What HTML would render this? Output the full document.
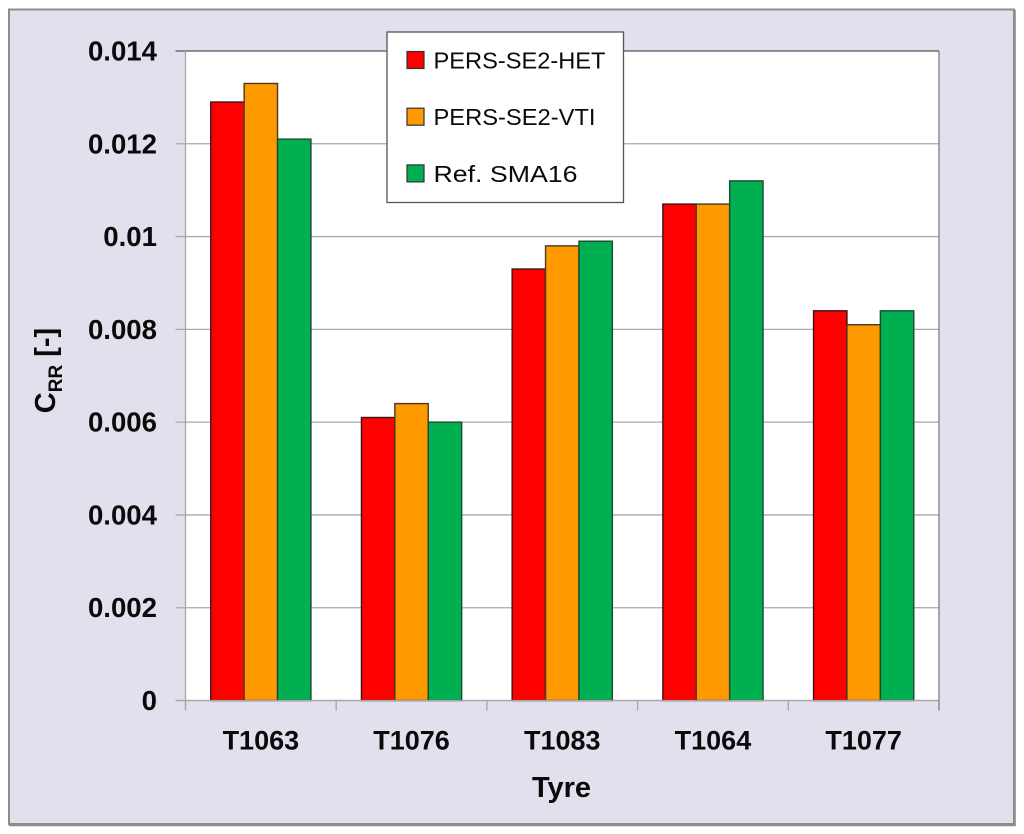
<!DOCTYPE html>
<html>
<head>
<meta charset="utf-8">
<style>
html,body{margin:0;padding:0;background:#fff;width:1024px;height:834px;overflow:hidden}
svg{display:block}
text{font-family:"Liberation Sans",sans-serif;fill:#0a0a0a}
</style>
</head>
<body>
<svg id="chart" xmlns="http://www.w3.org/2000/svg" width="1024" height="834" viewBox="0 0 1024 834"></svg>
<script>
const categories = ["T1063", "T1076", "T1083", "T1064", "T1077"];
const seriesNames = ["PERS-SE2-HET", "PERS-SE2-VTI", "Ref. SMA16"];
const persHet = [0.0129, 0.0061, 0.0093, 0.0107, 0.0084];
const persVti = [0.0133, 0.0064, 0.0098, 0.0107, 0.0081];
const refSma = [0.0121, 0.0060, 0.0099, 0.0112, 0.0084];
const tickValues = [0, 0.002, 0.004, 0.006, 0.008, 0.01, 0.012, 0.014];
const tickLabels = ["0", "0.002", "0.004", "0.006", "0.008", "0.01", "0.012", "0.014"];

const svg = document.getElementById('chart');
const NS = 'http://www.w3.org/2000/svg';
const plot = {left: 185.5, right: 939, top: 51, bottom: 700.5};
const yMax = 0.014;
const colors = ['#ff0000', '#ff9900', '#00b050'];
const edges = ['#3a1414', '#4a3a1c', '#1c4a30'];
const legendTextWidths = [172, 162, 144];
const allSeries = [persHet, persVti, refSma];

function yScale(v) { return plot.bottom - (v / yMax) * (plot.bottom - plot.top); }
function bandWidth() { return (plot.right - plot.left) / categories.length; }
function xBand(i) { return plot.left + i * bandWidth(); }
function make(tag, attrs, text) {
  const el = document.createElementNS(NS, tag);
  for (const k in attrs) el.setAttribute(k, attrs[k]);
  if (text !== undefined) el.textContent = text;
  svg.appendChild(el);
  return el;
}

let el;
el = make('rect', {x: 9, y: 9.5, width: 1005, height: 814.5, fill: '#e4dfec', stroke: '#8c8c8c', 'stroke-width': 2});


el = make('path', {d: 'M1014.5 10V825H9', fill: 'none', stroke: '#8c8c8c', 'stroke-width': 2.6});


el = make('rect', {x: plot.left, y: plot.top, width: plot.right - plot.left, height: plot.bottom - plot.top, fill: '#ffffff'});



tickValues.forEach(function (v, i) {
  const y = yScale(v);
  const color = i === tickValues.length - 1 ? '#555555' : '#aaaaaa';
  const grid = make('line', {x1: plot.left - 10, x2: plot.right, y1: y, y2: y, stroke: color, 'stroke-width': 1.3});
  
  
  const label = make('text', {x: 157, y: y + 9.5, 'text-anchor': 'end', 'font-size': 27.6, 'font-weight': 'bold'}, tickLabels[i]);
  
  
});

el = make('line', {x1: plot.left, x2: plot.left, y1: plot.top, y2: plot.bottom + 10, stroke: '#a6a6a6', 'stroke-width': 1.3});


el = make('line', {x1: plot.right, x2: plot.right, y1: plot.top, y2: plot.bottom + 10, stroke: '#808080', 'stroke-width': 1.3});



categories.forEach(function (c, i) {
  const bw = bandWidth();
  const barW = 33.4;
  const start = xBand(i) + (bw - barW * allSeries.length) / 2;
  allSeries.forEach(function (s, j) {
    const y = yScale(s[i]);
    const bar = make('rect', {x: start + j * barW, y: y, width: barW, height: plot.bottom - y, fill: colors[j], stroke: edges[j], 'stroke-width': 1.4});
    
    
  });
  const tick = make('line', {x1: xBand(i), x2: xBand(i), y1: plot.bottom, y2: plot.bottom + 10, stroke: '#a6a6a6', 'stroke-width': 1.3});
  
  
  const label = make('text', {x: xBand(i) + bw / 2, y: 749.5, 'text-anchor': 'middle', 'font-size': 27, 'font-weight': 'bold'}, c);
  
  
});

el = make('line', {x1: plot.left - 10, x2: plot.right, y1: plot.bottom, y2: plot.bottom, stroke: '#a6a6a6', 'stroke-width': 1.3});



el = make('text', {x: 561.5, y: 797, 'text-anchor': 'middle', 'font-size': 29, 'font-weight': 'bold'}, 'Tyre');



el = make('text', {transform: 'translate(55,370.5) rotate(-90)', 'text-anchor': 'middle', 'font-size': 29, 'font-weight': 'bold'});


const t1 = document.createElementNS(NS, 'tspan');
t1.textContent = 'C';
const t2 = document.createElementNS(NS, 'tspan');
t2.setAttribute('font-size', '19');
t2.setAttribute('dy', '7');
t2.textContent = 'RR';
const t3 = document.createElementNS(NS, 'tspan');
t3.setAttribute('dy', '-7');
t3.textContent = ' [-]';
el.appendChild(t1); el.appendChild(t2); el.appendChild(t3);

el = make('rect', {x: 387, y: 32, width: 236.5, height: 170.5, fill: '#ffffff', stroke: '#555555', 'stroke-width': 1.3});



seriesNames.forEach(function (n, i) {
  const cy = 60 + i * 56.7;
  const sw = make('rect', {x: 407, y: cy - 8.5, width: 17, height: 17, fill: colors[i], stroke: '#333333', 'stroke-width': 1.2});
  
  
  const label = make('text', {x: 433.5, y: cy + 8.5, 'font-size': 23.5, textLength: legendTextWidths[i], lengthAdjust: 'spacingAndGlyphs'}, n);
  
  
});
</script>
</body>
</html>
